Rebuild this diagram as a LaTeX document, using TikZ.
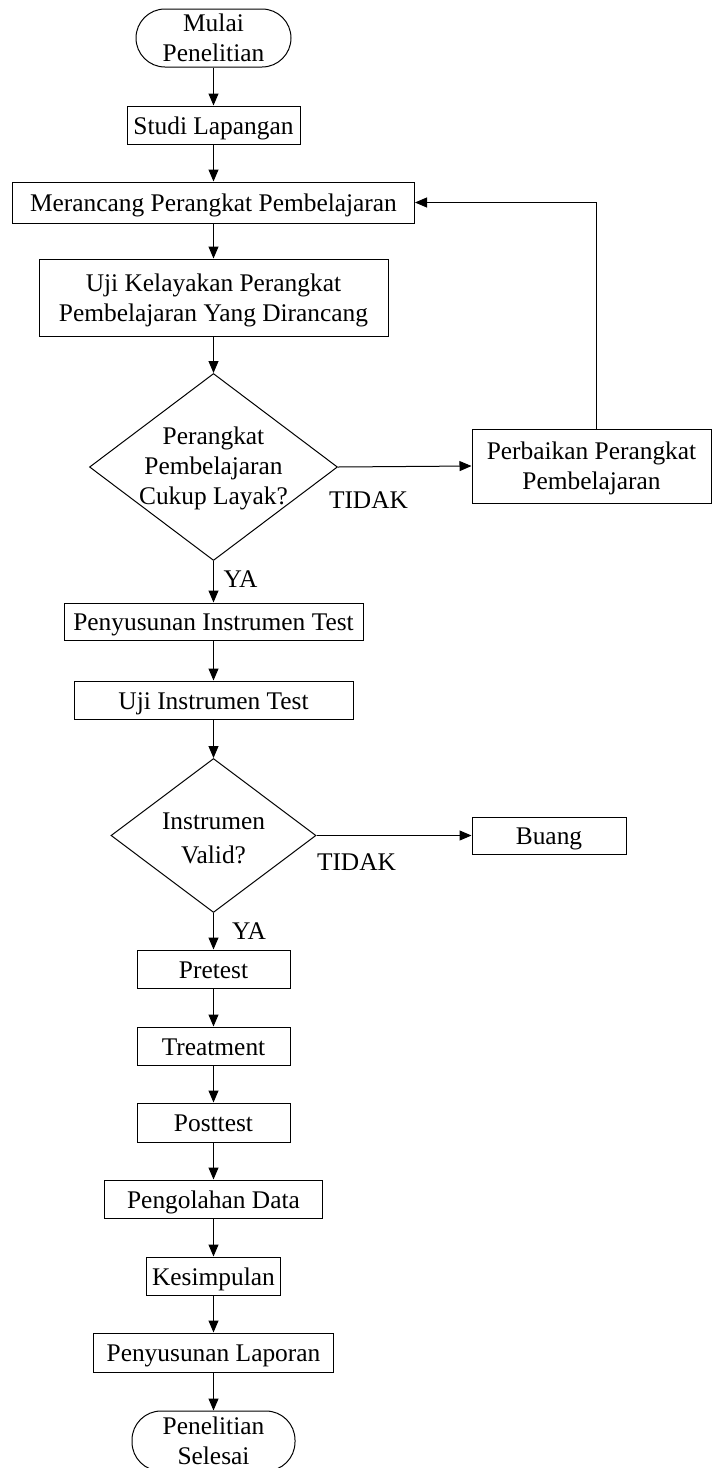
\documentclass[tikz,border=0pt]{standalone}
\usepackage{fontspec}
\setmainfont{Liberation Serif}
\usetikzlibrary{shapes.geometric,arrows.meta}
\begin{document}
\begin{tikzpicture}[x=0.5pt,y=-0.5pt,
  every node/.style={font=\fontsize{12.7}{15}\selectfont, inner sep=0pt},
  box/.style={draw, line width=0.5pt, align=center},
  one/.style={text height=11pt, text depth=2pt},
  term/.style={draw, line width=0.5pt, align=center, rounded corners=14.5pt},
  dia/.style={draw, line width=0.5pt, diamond},
  lbl/.style={align=center},
  conn/.style={line width=0.5pt, -{Triangle[length=6pt,width=5pt]}},
  plain/.style={line width=0.5pt}]
\useasboundingbox (0,0) rectangle (712,1468);

\node[term, minimum width=77.5pt, minimum height=29pt] (mulai) at (213.5,38) {Mulai\\Penelitian};
\node[box, one, minimum width=86.5pt, minimum height=19pt] (studi) at (213.5,125) {Studi Lapangan};
\node[box, one, minimum width=201pt, minimum height=20.5pt] (merancang) at (213.5,202.5) {Merancang Perangkat Pembelajaran};
\node[box, minimum width=174.5pt, minimum height=38.5pt] (ujikel) at (213.5,297.5) {};
\node[lbl] (ujikelt) at (213.5,300.5) {Uji Kelayakan Perangkat\\Pembelajaran Yang Dirancang};
\node[dia, minimum width=124pt, minimum height=93.5pt] (d1) at (213.5,467) {};
\node[lbl] (d1t) at (213.5,468) {Perangkat\\Pembelajaran\\Cukup Layak?};
\node[box, minimum width=119.5pt, minimum height=37pt] (perbaikan) at (591.5,466) {};
\node[lbl] (perbaikant) at (591.5,468.5) {Perbaikan Perangkat\\Pembelajaran};
\node[box, one, minimum width=149.5pt, minimum height=18.5pt] (penyusunan) at (213.5,621.5) {Penyusunan Instrumen Test};
\node[box, one, minimum width=139.5pt, minimum height=19pt] (ujiins) at (213.5,700) {Uji Instrumen Test};
\node[dia, minimum width=102.5pt, minimum height=77pt] (d2) at (213.5,835.5) {};
\node[lbl, font=\fontsize{12.7}{17}\selectfont] (d2t) at (213.5,838) {Instrumen\\Valid?};
\node[box, one, minimum width=77pt, minimum height=18.5pt] (buang) at (549,835.5) {Buang};
\node[box, one, minimum width=76.5pt, minimum height=19pt] (pretest) at (213.5,969) {Pretest};
\node[box, one, minimum width=76.5pt, minimum height=19pt] (treatment) at (213.5,1046) {Treatment};
\node[box, one, minimum width=76.5pt, minimum height=19.5pt] (posttest) at (213.5,1122.5) {Posttest};
\node[box, one, minimum width=109pt, minimum height=19pt] (pengolahan) at (213.5,1199) {Pengolahan Data};
\node[box, one, minimum width=67pt, minimum height=19pt] (kesimpulan) at (213.5,1276) {Kesimpulan};
\node[box, one, minimum width=120pt, minimum height=19.5pt] (laporan) at (213.5,1352.5) {Penyusunan Laporan};
\node[term, minimum width=81.5pt, minimum height=30pt] (selesai) at (213.5,1441) {Penelitian\\Selesai};

\node[lbl] (tidak1) at (368.5,500) {TIDAK};
\node[lbl] (ya1) at (240.5,579) {YA};
\node[lbl] (tidak2) at (356.5,862) {TIDAK};
\node[lbl] (ya2) at (249,931) {YA};

\draw[conn] (mulai) -- (studi);
\draw[conn] (studi) -- (merancang);
\draw[conn] (merancang) -- (ujikel);
\draw[conn] (ujikel) -- (d1.north);
\draw[conn] (d1.east) -- (perbaikan.west);
\draw[conn] ([xshift=2.25pt]perbaikan.north) |- (merancang.east);
\draw[conn] (d1.south) -- (penyusunan.north);
\draw[conn] (penyusunan) -- (ujiins);
\draw[conn] (ujiins) -- (d2.north);
\draw[conn] (d2.east) -- (buang.west);
\draw[conn] (d2.south) -- (pretest.north);
\draw[conn] (pretest) -- (treatment);
\draw[conn] (treatment) -- (posttest);
\draw[conn] (posttest) -- (pengolahan);
\draw[conn] (pengolahan) -- (kesimpulan);
\draw[conn] (kesimpulan) -- (laporan);
\draw[conn] (laporan) -- (selesai);
\end{tikzpicture}
\end{document}
